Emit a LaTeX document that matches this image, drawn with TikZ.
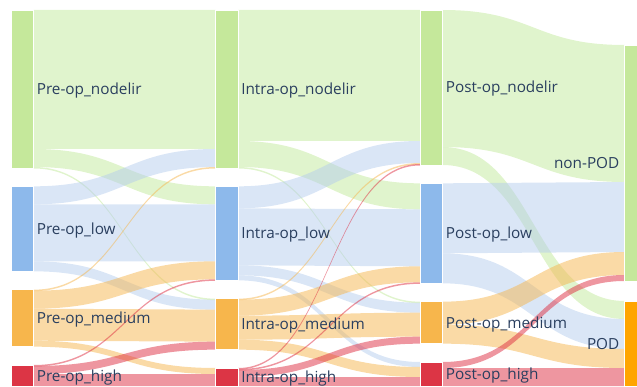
\documentclass[tikz,border=0pt]{standalone}
\usepackage{fontspec}
\setmainfont{Open Sans}
\usetikzlibrary{positioning}

\definecolor{nodelir}{RGB}{197,232,155}
\definecolor{low}{RGB}{141,185,235}
\definecolor{medium}{RGB}{247,182,76}
\definecolor{high}{RGB}{220,53,69}
\definecolor{pod}{RGB}{255,165,0}
\definecolor{linkgreen}{RGB}{194,233,155}
\definecolor{linkblue}{RGB}{181,205,237}
\definecolor{linkorange}{RGB}{245,181,77}
\definecolor{linkred}{RGB}{221,45,65}
\definecolor{labeltext}{RGB}{42,63,95}

% band from column #2 to the next one: top at source, top at target, width
\newcommand{\band}[5]{%
  \pgfmathsetmacro{\xa}{33.6+204.5*(#2-1)}%
  \pgfmathsetmacro{\xb}{\xa+181.9}%
  \pgfmathsetmacro{\xm}{(\xa+\xb)/2}%
  \fill[#1,fill opacity=.5] (\xa,#3) .. controls (\xm,#3) and (\xm,#4) .. (\xb,#4)
    -- (\xb,#4+#5) .. controls (\xm,#4+#5) and (\xm,#3+#5) .. (\xa,#3+#5) -- cycle;}

\tikzset{
  bar/.style={draw=white,line width=.5pt,inner sep=0pt,outer sep=0pt,minimum width=22.6pt},
  lbl/.style={text=labeltext,font=\fontsize{15.3}{18}\selectfont,inner sep=0pt}
}

\begin{document}
\begin{tikzpicture}[x=1pt,y=-1pt]
  \useasboundingbox (0,0) rectangle (637,387);

  % pre-op -> intra-op
  \band{linkgreen}{1}{10}{10}{139}
  \band{linkgreen}{1}{149}{186.33}{18}
  \band{linkgreen}{1}{167}{298.67}{1.5}
  \band{linkblue}{1}{186.33}{149}{18}
  \band{linkblue}{1}{204.33}{204.33}{57}
  \band{linkblue}{1}{261.33}{299.67}{10}
  \band{linkorange}{1}{289.67}{167}{1.5}
  \band{linkorange}{1}{290.67}{261.33}{18}
  \band{linkorange}{1}{308.67}{309.67}{32}
  \band{linkorange}{1}{340.67}{368}{6}
  \band{linkred}{1}{365}{279.33}{1.5}
  \band{linkred}{1}{366}{341.67}{8}
  \band{linkred}{1}{374}{374}{12}

  % intra-op -> post-op
  \band{linkgreen}{2}{10}{10}{131}
  \band{linkgreen}{2}{141}{183.33}{26}
  \band{linkgreen}{2}{167}{301.67}{1.5}
  \band{linkblue}{2}{186.33}{141}{22}
  \band{linkblue}{2}{208.33}{209.33}{57}
  \band{linkblue}{2}{265.33}{302.67}{10}
  \band{linkblue}{2}{275.33}{362}{5}
  \band{linkorange}{2}{298.67}{163}{1.5}
  \band{linkorange}{2}{299.67}{266.33}{16}
  \band{linkorange}{2}{315.67}{312.67}{24}
  \band{linkorange}{2}{339.67}{367}{10}
  \band{linkred}{2}{368}{164}{1.5}
  \band{linkred}{2}{369}{282.33}{1.5}
  \band{linkred}{2}{370}{336.67}{7}
  \band{linkred}{2}{377}{377}{9}

  % post-op -> outcome
  \band{linkgreen}{3}{10}{45}{137}
  \band{linkgreen}{3}{147}{301}{18}
  \band{linkblue}{3}{183.33}{182}{70}
  \band{linkblue}{3}{253.33}{319}{30}
  \band{linkorange}{3}{301.67}{252}{23}
  \band{linkorange}{3}{324.67}{349}{19}
  \band{linkred}{3}{362}{275}{6}
  \band{linkred}{3}{368}{368}{18}

  \node[bar,fill=nodelir,minimum height=158pt] (pn) at (22.3,89) {};
  \node[bar,fill=low,minimum height=85pt] (pl) at (22.3,228.83) {};
  \node[bar,fill=medium,minimum height=57pt] (pm) at (22.3,318.17) {};
  \node[bar,fill=high,minimum height=21pt] (ph) at (22.3,375.5) {};

  \node[bar,fill=nodelir,minimum height=158pt] (in) at (226.8,89) {};
  \node[bar,fill=low,minimum height=94pt] (il) at (226.8,233.33) {};
  \node[bar,fill=medium,minimum height=51pt] (im) at (226.8,324.17) {};
  \node[bar,fill=high,minimum height=18pt] (ih) at (226.8,377) {};

  \node[bar,fill=nodelir,minimum height=155pt] (on) at (431.3,87.5) {};
  \node[bar,fill=low,minimum height=100pt] (ol) at (431.3,233.33) {};
  \node[bar,fill=medium,minimum height=42pt] (om) at (431.3,322.67) {};
  \node[bar,fill=high,minimum height=24pt] (oh) at (431.3,374) {};

  \node[bar,fill=nodelir,minimum width=12.5pt,minimum height=236pt] (np) at (630.75,163) {};
  \node[bar,fill=pod,minimum width=12.5pt,minimum height=85pt] (pd) at (630.75,343.5) {};

  \node[lbl,anchor=base west] at ([xshift=3pt,yshift=-5.5pt]pn.east) {Pre-op\_nodelir};
  \node[lbl,anchor=base west] at ([xshift=3pt,yshift=-5.5pt]pl.east) {Pre-op\_low};
  \node[lbl,anchor=base west] at ([xshift=3pt,yshift=-5.5pt]pm.east) {Pre-op\_medium};
  \node[lbl,anchor=base west] at ([xshift=3pt,yshift=-5.5pt]ph.east) {Pre-op\_high};
  \node[lbl,anchor=base west] at ([xshift=3pt,yshift=-5.5pt]in.east) {Intra-op\_nodelir};
  \node[lbl,anchor=base west] at ([xshift=3pt,yshift=-5.5pt]il.east) {Intra-op\_low};
  \node[lbl,anchor=base west] at ([xshift=3pt,yshift=-5.5pt]im.east) {Intra-op\_medium};
  \node[lbl,anchor=base west] at ([xshift=3pt,yshift=-5.5pt]ih.east) {Intra-op\_high};
  \node[lbl,anchor=base west] at ([xshift=3pt,yshift=-5.5pt]on.east) {Post-op\_nodelir};
  \node[lbl,anchor=base west] at ([xshift=3pt,yshift=-5.5pt]ol.east) {Post-op\_low};
  \node[lbl,anchor=base west] at ([xshift=3pt,yshift=-5.5pt]om.east) {Post-op\_medium};
  \node[lbl,anchor=base west] at ([xshift=3pt,yshift=-5.5pt]oh.east) {Post-op\_high};
  \node[lbl,anchor=base east] at ([xshift=-5pt,yshift=-5.5pt]np.west) {non-POD};
  \node[lbl,anchor=base east] at ([xshift=-5pt,yshift=-5.5pt]pd.west) {POD};
\end{tikzpicture}
\end{document}
